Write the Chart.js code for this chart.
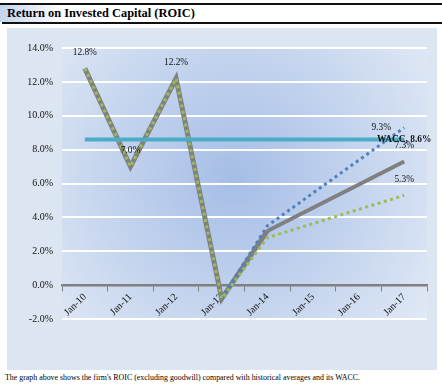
<!DOCTYPE html>
<html>
<head>
<meta charset="utf-8">
<script src="https://cdn.jsdelivr.net/npm/chart.js@4.4.1/dist/chart.umd.min.js"></script>
<style>
  html, body { margin: 0; padding: 0; background: #ffffff; }
  body { width: 442px; height: 388px; position: relative; overflow: hidden; font-family: "Liberation Serif", "DejaVu Serif", serif; }
  #topline { position: absolute; left: 0; top: 3px; width: 442px; height: 2px; background: #111; }
  #titlebar { position: absolute; left: 0; top: 5px; width: 442px; height: 17px; background: linear-gradient(to right, #c3d4eb 0px, #ffffff 62px); }
  #title { position: absolute; left: 7px; top: 6px; font-size: 12.4px; font-weight: bold; color: #000; white-space: nowrap; }
  #botline { position: absolute; left: 2px; top: 22px; width: 440px; height: 2px; background: #111; }
  #panel { position: absolute; left: 7px; top: 28px; width: 430px; height: 342px; background: #dce6f2; }
  #chart { position: absolute; left: 0; top: 0; }
  #note { position: absolute; left: 5px; top: 373px; font-size: 7.9px; color: #000; white-space: nowrap; }
</style>
</head>
<body>
<div id="topline"></div>
<div id="titlebar"></div>
<div id="title">Return on Invested Capital (ROIC)</div>
<div id="botline"></div>
<div id="panel"><canvas id="chart" width="430" height="342"></canvas></div>
<div id="note">The graph above shows the firm's ROIC (excluding goodwill) compared with historical averages and its WACC.</div>
<script>
// ---- data ----
const categories = ['Jan-10', 'Jan-11', 'Jan-12', 'Jan-13', 'Jan-14', 'Jan-15', 'Jan-16', 'Jan-17'];
const roic      = [12.8, 7.0, 12.2, -0.8, 3.2, null, null, 7.3];   // gray
const roicLow   = [12.8, 7.0, 12.2, -0.8, 2.8, null, null, 5.3];   // green dotted
const roicHigh  = [null, null, null, -0.8, 3.5, null, null, 9.3];  // blue dotted
const wacc      = [8.6, 8.6, 8.6, 8.6, 8.6, 8.6, 8.6, 8.6];
const yMin = -2, yMax = 14, yStep = 2;

const fmt = v => v.toFixed(1) + '%';
const FONT = '"Liberation Serif", "DejaVu Serif", serif';

const bgPlugin = {
  id: 'plotBg',
  beforeDraw(chart) {
    const {ctx, chartArea: a} = chart;
    const cx = (a.left + a.right) / 2 - 10, cy = (a.top + a.bottom) / 2 - 5;
    const g = ctx.createRadialGradient(cx, cy, 0, cx, cy, 235);
    g.addColorStop(0, '#a5bde6');
    g.addColorStop(1, '#dfe8f5');
    ctx.save();
    ctx.fillStyle = g;
    ctx.fillRect(a.left, a.top, a.right - a.left, a.bottom - a.top);
    ctx.restore();
  }
};

// labels: [datasetIndex, dataIndex, position]
const labelSpecs = [
  [0, 0, 'above'], [0, 1, 'above'], [0, 2, 'above'], [0, 7, 'above'],
  [1, 7, 'above'], [2, 7, 'left'], [3, 7, 'wacc']
];
const labelPlugin = {
  id: 'pointLabels',
  afterDatasetsDraw(chart) {
    const ctx = chart.ctx;
    ctx.save();
    ctx.fillStyle = '#111';
    ctx.textBaseline = 'middle';
    labelSpecs.forEach(([di, i, pos]) => {
      const el = chart.getDatasetMeta(di).data[i];
      const v = chart.data.datasets[di].data[i];
      let x = el.x, y = el.y, text = fmt(v);
      ctx.textAlign = 'center';
      if (pos === 'above') { ctx.font = '9.4px ' + FONT; y -= 16; }
      else if (pos === 'left') { ctx.font = '9.4px ' + FONT; x -= 23; }
      else { ctx.font = 'bold 9.4px ' + FONT; text = 'WACC, ' + fmt(v); }
      ctx.fillText(text, x, y);
    });
    ctx.restore();
  }
};

new Chart(document.getElementById('chart'), {
  type: 'line',
  data: {
    labels: categories,
    datasets: [
      { label: 'ROIC', data: roic, borderColor: '#808080', borderWidth: 5, order: 4, spanGaps: true,
        segment: { borderWidth: c => c.p0DataIndex >= 4 ? 4 : 5 } },
      { label: 'ROIC low', data: roicLow, borderColor: '#9bbb59', borderWidth: 3, borderDash: [3, 3.5], order: 2, spanGaps: true },
      { label: 'ROIC high', data: roicHigh, borderColor: '#4f81bd', borderWidth: 3, borderDash: [3, 3.5], order: 3, spanGaps: true },
      { label: 'WACC', data: wacc, borderColor: '#4bacc6', borderWidth: 4, order: 1 }
    ]
  },
  options: {
    responsive: false,
    animation: false,
    events: [],
    layout: { padding: { left: 0, right: 10, top: 20, bottom: 51 } },
    elements: { point: { radius: 0 }, line: { tension: 0, fill: false, borderCapStyle: 'butt', borderJoinStyle: 'miter' } },
    plugins: { legend: { display: false }, tooltip: { enabled: false } },
    scales: {
      x: {
        type: 'category',
        position: { y: 0 },
        offset: true,
        grid: { offset: true, drawOnChartArea: false, drawTicks: true, tickLength: 5, color: '#808080', lineWidth: 1 },
        border: { display: true, color: '#808080', width: 2.5 },
        ticks: { autoSkip: false, minRotation: 45, maxRotation: 45, padding: 1, color: '#111', font: { family: FONT, size: 10 } }
      },
      y: {
        min: yMin, max: yMax,
        afterFit(s) { s.width = 55; },
        grid: { color: c => (c.tick && c.tick.value === 0) ? 'rgba(0,0,0,0)' : '#ffffff', lineWidth: 2, drawTicks: false },
        border: { display: false },
        ticks: { stepSize: yStep, padding: 9, color: '#111', font: { family: FONT, size: 10 }, callback: v => fmt(v) }
      }
    }
  },
  plugins: [bgPlugin, labelPlugin]
});
</script>
</body>
</html>
